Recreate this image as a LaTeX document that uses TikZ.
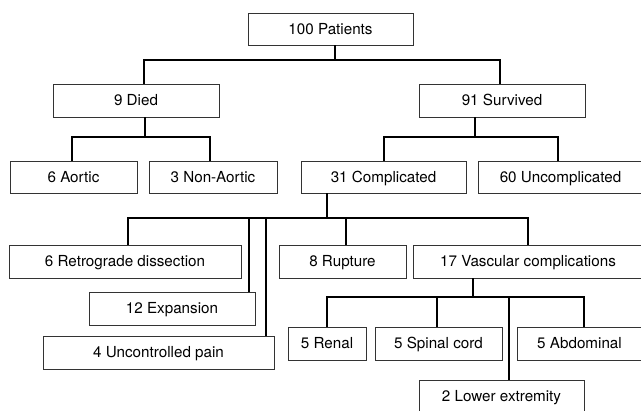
\documentclass[tikz,border=0pt]{standalone}
\usepackage{fontspec}
\setmainfont{TeX Gyre Heros}
\begin{document}
\begin{tikzpicture}[x=1pt,y=-1pt,
  box/.style={draw=black!80, line width=0.9pt, minimum height=33pt, inner sep=0pt,
    text height=11pt, text depth=0pt, font=\fontsize{15.2}{18}\selectfont, anchor=center},
  conn/.style={line width=1.6pt, line join=miter}]
\useasboundingbox (0,0) rectangle (641,411);
\clip (0,0) rectangle (641,411);
% nodes
\node[box, minimum width=165pt, minimum height=32pt] (pat) at (330.5,29) {100 Patients};
\node[box, minimum width=166pt] (died) at (136,100.5) {9 Died};
\node[box, minimum width=166pt] (surv) at (502,100.5) {91 Survived};
\node[box, minimum width=127pt, minimum height=32pt] (aort) at (73.5,177) {6 Aortic};
\node[box, minimum width=128pt, minimum height=32pt] (naort) at (213,177) {3 Non-Aortic};
\node[box, minimum width=165pt, minimum height=32pt] (comp) at (383.5,177) {31 Complicated};
\node[box, minimum width=165pt, minimum height=32pt] (unc) at (560.5,177) {60 Uncomplicated};
\node[box, minimum width=232pt] (retro) at (125,261.5) {6 Retrograde dissection};
\node[box, minimum width=166pt] (exp) at (172,308.5) {12 Expansion};
\node[box, minimum width=231pt] (pain) at (158.5,352.5) {4 Uncontrolled pain};
\node[box, minimum width=127pt] (rupt) at (342.5,261.5) {8 Rupture};
\node[box, minimum width=230pt] (vasc) at (528,261.5) {17 Vascular complications};
\node[box, minimum width=78pt] (ren) at (327,343.5) {5 Renal};
\node[box, minimum width=127pt] (spin) at (438.5,343.5) {5 Spinal cord};
\node[box, minimum width=125pt] (abd) at (579.5,343.5) {5 Abdominal};
\node[box, minimum width=165pt] (low) at (501.5,396.5) {2 Lower extremity};
% connectors
\coordinate (b1) at (335,60);
\draw[conn] (pat.south -| b1) -- (b1) -| (died.north -| 144,0);
\draw[conn] (b1) -| (surv.north -| 500,0);
\coordinate (b2) at (145,137);
\draw[conn] (died.south -| b2) -- (b2) -| (aort.north -| 72,0);
\draw[conn] (b2) -| (naort.north -| 210,0);
\coordinate (b3) at (475,137);
\draw[conn] (surv.south -| b3) -- (b3) -| (comp.north -| 384,0);
\draw[conn] (b3) -| (unc.north -| 558,0);
\coordinate (b4) at (327,218);
\draw[conn] (comp.south -| b4) -- (b4) -| (retro.north -| 128,0);
\draw[conn] (b4) -| (exp.north -| 249,0);
\draw[conn] (b4) -| (pain.north -| 266,0);
\draw[conn] (b4) -| (rupt.north -| 346,0);
\draw[conn] (b4) -| (vasc.north);
\coordinate (b5) at (473,297);
\draw[conn] (vasc.south -| b5) -- (b5) -| (ren.north);
\draw[conn] (b5) -| (spin.north -| 437,0);
\draw[conn] (b5) -| (abd.north -| 584,0);
\draw[conn] (b5) -| (low.north -| 509,0);
\end{tikzpicture}
\end{document}
